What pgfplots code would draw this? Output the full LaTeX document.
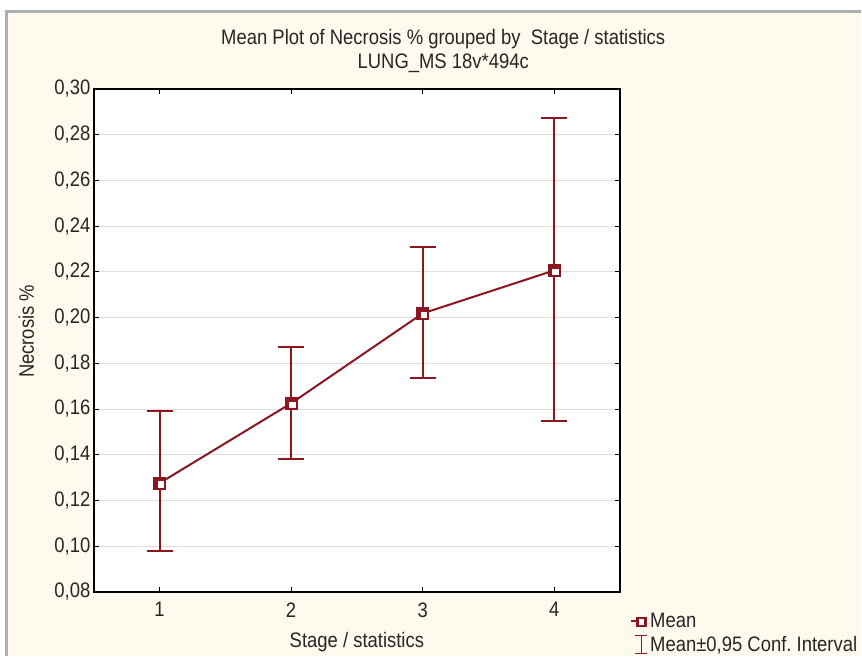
\documentclass[border=0pt]{standalone}
\usepackage{fontspec}
\setmainfont[FakeStretch=0.88]{Liberation Sans}
\usepackage{pgfplots}
\pgfplotsset{compat=1.18}
\definecolor{bg}{RGB}{255,249,238}
\definecolor{mr}{RGB}{140,22,32}
\definecolor{framec}{RGB}{175,175,175}
\definecolor{gridc}{RGB}{222,222,222}
\pgfplotstableread{
x y ep em
1 0.1276 0.0314 0.0296
2 0.1625 0.0245 0.0244
3 0.2018 0.0292 0.0283
4 0.2206 0.0668 0.0659
}\means
\frenchspacing
\begin{document}
\begin{tikzpicture}[x=1pt,y=1pt]
\fill[white] (0,0) rectangle (862,657);
\fill[bg] (8,0) rectangle (862,645);
\draw[framec, line width=3pt] (6.5,0) -- (6.5,645.5) -- (862,645.5);
\node[font=\fontsize{21}{24}\selectfont, text=black!85] at (444,618) {Mean Plot of Necrosis \% grouped by\ \ Stage / statistics};
\node[font=\fontsize{21}{24}\selectfont, text=black!85] at (444,594) {LUNG\_MS 18v*494c};
\begin{axis}[at={(94pt,64pt)}, anchor=south west, scale only axis,
  width=527pt, height=504pt,
  xmin=0.5, xmax=4.5, ymin=0.08, ymax=0.30,
  xtick={1,2,3,4},
  ytick={0.08,0.10,0.12,0.14,0.16,0.18,0.20,0.22,0.24,0.26,0.28,0.30},
  tick align=inside, major tick length=5pt,
  tick style={black, line width=1pt},
  axis line style={black, line width=1.5pt},
  axis background/.style={fill=white},
  ymajorgrids, grid style={gridc, line width=1pt},
  yticklabel style={/pgf/number format/.cd, use comma, fixed, fixed zerofill, precision=2},
  xticklabel style={yshift=-7pt},
  /pgf/number format/assume math mode=true,
  tick label style={font=\fontsize{21}{24}\selectfont, text=black!85},
  xlabel={Stage / statistics}, ylabel={Necrosis \%},
  label style={font=\fontsize{21}{24}\selectfont, text=black!85},
  xlabel style={at={(axis description cs:0.5,-0.1)}, anchor=center},
  ylabel style={at={(axis description cs:-0.128,0.518)}, anchor=center, rotate=0},
  legend style={at={(axis description cs:1.02,-0.034)}, anchor=north west, draw=none, fill=none,
    font=\fontsize{21}{24}\selectfont, text=black!85, row sep=3pt, inner xsep=0pt,
    nodes={inner xsep=2pt}},
  legend cell align=left,
  clip=false,
]
\addplot[draw=none, mark=none, forget plot,
  error bars/.cd, y dir=both, y explicit,
  error bar style={draw=mr, line width=2pt},
  error mark options={rotate=90, draw=mr, mark size=13pt, line width=2pt}]
  table[x=x, y=y, y error plus=ep, y error minus=em] {\means};
\addplot[mr, line width=2pt, mark=square*, mark size=6pt, mark options={fill=mr, draw=mr, line width=0.5pt},
  legend image code/.code={
    \draw[mr, line width=1.6pt] (-2pt,0) -- (8pt,0);
    \draw[mr, fill=white, line width=2.2pt] (4pt,-4.5pt) rectangle (12pt,3.5pt);}]
  table[x=x, y=y] {\means};
\addlegendentry{Mean}
\addplot[draw=none, mark=square*, mark size=2.8pt, mark options={fill=white, draw=white, line width=0pt, xshift=1.5pt, yshift=-1.5pt}, forget plot]
  table[x=x, y=y] {\means};
\addlegendimage{legend image code/.code={
    \draw[mr, line width=1.6pt] (8pt,-9pt) -- (8pt,9pt);
    \draw[mr, line width=1.6pt] (2pt,9pt) -- (14pt,9pt);
    \draw[mr, line width=1.6pt] (2pt,-9pt) -- (14pt,-9pt);}}
\addlegendentry{Mean±0,95 Conf. Interval}
\end{axis}
\end{tikzpicture}
\end{document}
